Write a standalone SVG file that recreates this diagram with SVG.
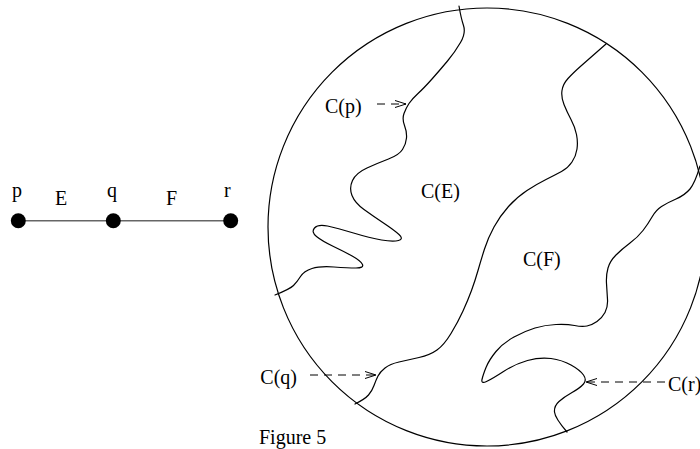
<svg xmlns="http://www.w3.org/2000/svg" width="700" height="449" viewBox="0 0 700 449">
<style>
text{font-family:"Liberation Serif","Times New Roman",serif;font-size:20px;fill:#000}
.curve{fill:none;stroke:#000;stroke-width:1.2;stroke-linejoin:round;stroke-linecap:round}
.dash{fill:none;stroke:#000;stroke-width:1;stroke-dasharray:8 6}
.edge{stroke:#666;stroke-width:1.6}
.node{fill:#000}
</style>
<defs>
<marker id="vh" viewBox="0 0 12 8" refX="11" refY="4" markerWidth="12" markerHeight="8" markerUnits="userSpaceOnUse" orient="auto">
<path d="M0,0.5 L11,4 L0,7.5" fill="none" stroke="#000" stroke-width="1"/>
</marker>
</defs>
<rect width="700" height="449" fill="#fff"/>
<g id="graph-edges">
<line class="edge" x1="18.3" y1="220.7" x2="230.7" y2="220.7"/>
</g>
<g id="node-p"><circle class="node" cx="18.3" cy="220.7" r="7.5"/><text x="12" y="197">p</text></g>
<g id="node-q"><circle class="node" cx="113.3" cy="220.7" r="7.5"/><text x="107" y="197">q</text></g>
<g id="node-r"><circle class="node" cx="230.7" cy="220.7" r="7.5"/><text x="224" y="197">r</text></g>
<g id="edge-labels"><text x="55" y="205">E</text><text x="166" y="205">F</text></g>
<g id="disk">
<circle class="curve" cx="487" cy="227" r="219"/>
<path class="curve" d="M459 6 Q461 18 463.5 25.5 Q466 33 460.5 42.5 Q455 52 447.5 61 Q440 70 432 79 Q424 88 418 93.5 Q412 99 409 103.5 Q406 108 404 113.5 Q402 119 404.5 125.5 Q407 132 406.5 138 Q406 144 402.5 149.5 Q399 155 388.5 159 Q378 163 367 168 Q356 173 352.5 180.5 Q349 188 352 195.5 Q355 203 364 209.5 Q373 216 383.5 223 Q394 230 399 234.5 Q404 239 398.5 240.5 Q393 242 381.5 240 Q370 238 353.5 233 Q337 228 327.5 226 Q318 224 314.5 228 Q311 232 316.5 236.5 Q322 241 333.5 246.5 Q345 252 353 256.5 Q361 261 362.5 264.5 Q364 268 356 268 Q348 268 334 267 Q320 266 312 268.5 Q304 271 300.5 276.5 Q297 282 293.5 285.5 Q290 289 275 295"/>
<path class="curve" d="M606 44 Q590 58 581.5 65.5 Q573 73 568 78.5 Q563 84 562 90.5 Q561 97 564 104.5 Q567 112 571 119.5 Q575 127 576.5 134.5 Q578 142 577 149 Q576 156 572 162 Q568 168 561.5 171.5 Q555 175 546 179.5 Q537 184 527 190.5 Q517 197 508.5 206.5 Q500 216 494 227 Q488 238 484.5 249 Q481 260 478 270.5 Q475 281 471.5 290.5 Q468 300 463 311 Q458 322 451 333.5 Q444 345 437 350 Q430 355 419 357.5 Q408 360 399 362 Q390 364 385 368 Q380 372 378 376 Q376 380 374 385.5 Q372 391 368.5 395 Q365 399 355 404"/>
<path class="curve" d="M700 166 Q695 183 690 189 Q685 195 676 199 Q667 203 661.5 206.5 Q656 210 652 217 Q648 224 643 230.5 Q638 237 630 243 Q622 249 616 255 Q610 261 608 268 Q606 275 606.5 283.5 Q607 292 607.5 299.5 Q608 307 605 312.5 Q602 318 597 321.5 Q592 325 587 326 Q582 327 574.5 325.5 Q567 324 556 324.5 Q545 325 535 328 Q525 331 514 337 Q503 343 496 351.5 Q489 360 486 367.5 Q483 375 482 379.5 Q481 384 486.5 381.5 Q492 379 503.5 371.5 Q515 364 527.5 360.5 Q540 357 551 358.5 Q562 360 571 365 Q580 370 583.5 375 Q587 380 583.5 384 Q580 388 572 392.5 Q564 397 559 401.5 Q554 406 554.5 412 Q555 418 567 432"/>
</g>
<g id="region-labels">
<text x="421" y="198">C(E)</text>
<text x="523" y="266">C(F)</text>
</g>
<g id="connectors">
<line class="dash" x1="377" y1="104" x2="406" y2="104" marker-end="url(#vh)"/>
<line class="dash" x1="310" y1="375" x2="376" y2="375" marker-end="url(#vh)"/>
<line class="dash" x1="665" y1="382" x2="586" y2="382" marker-end="url(#vh)"/>
</g>
<g id="boundary-labels">
<text x="325" y="113">C(p)</text>
<text x="297" y="384" text-anchor="end">C(q)</text>
<text x="668" y="391">C(r)</text>
</g>
<text x="259" y="444">Figure 5</text>
</svg>
